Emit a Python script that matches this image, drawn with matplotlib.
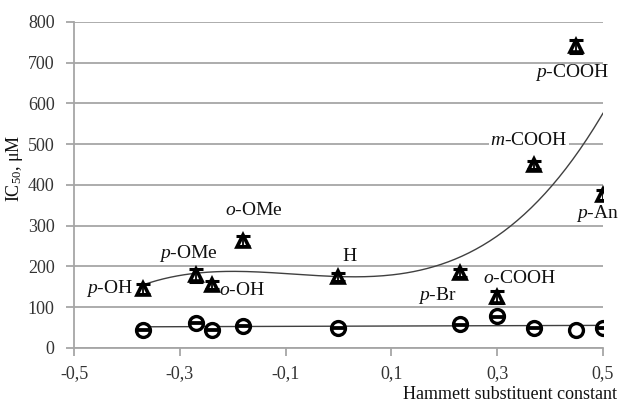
import numpy as np
import matplotlib.pyplot as plt

plt.rcParams['font.family'] = ['Liberation Serif', 'DejaVu Serif']
plt.rcParams['mathtext.fontset'] = 'custom'
plt.rcParams['mathtext.rm'] = 'Liberation Serif'
plt.rcParams['mathtext.it'] = 'Liberation Serif:italic'

# Data (Hammett sigma vs IC50, uM)
tri_labels = ['p-OH', 'p-OMe', 'o-OH', 'o-OMe', 'H', 'p-Br', 'o-COOH', 'm-COOH', 'p-COOH', 'p-An']
tri_x = [-0.37, -0.27, -0.24, -0.18, 0.0, 0.23, 0.30, 0.37, 0.45, 0.50]
tri_y = [145, 178, 155, 262, 175, 185, 125, 448, 740, 375]
tri_err = [12, 15, 10, 12, 10, 10, 15, 10, 15, 12]

circ_x = [-0.37, -0.27, -0.24, -0.18, 0.0, 0.23, 0.30, 0.37, 0.45, 0.50]
circ_y = [45, 62, 45, 55, 50, 58, 78, 50, 45, 50]
circ_err = [1.5, 1.5, 1.5, 1.5, 1.5, 1.5, 1.5, 1.5, np.nan, 1.5]

# label anchor positions (data coords)
lab_pos = {
    'p-OH': (-0.432, 147), 'p-OMe': (-0.284, 233), 'o-OH': (-0.182, 140),
    'o-OMe': (-0.16, 338), 'H': (0.02, 224), 'p-Br': (0.186, 130),
    'o-COOH': (0.343, 170), 'm-COOH': (0.36, 510), 'p-COOH': (0.441, 677),
    'p-An': (0.489, 331),
}

fig = plt.figure(figsize=(6.23, 4.03), dpi=100)
ax = fig.add_axes([0.1188, 0.1365, 0.849, 0.809])

grid_c = '#a6a6a6'
ax.set_xlim(-0.5, 0.5)
ax.set_ylim(0, 800)
ax.set_yticks(range(0, 801, 100))
ax.set_xticks([-0.5, -0.3, -0.1, 0.1, 0.3, 0.5])
ax.set_xticklabels(['-0,5', '-0,3', '-0,1', '0,1', '0,3', '0,5'])
ax.yaxis.grid(True, color=grid_c, lw=1.3)
ax.set_axisbelow(True)
for s in ['top', 'right']:
    ax.spines[s].set_visible(False)
for s in ['left', 'bottom']:
    ax.spines[s].set_color(grid_c)
    ax.spines[s].set_linewidth(1.3)
ax.tick_params(axis='both', colors=grid_c, length=6, width=1.3, labelsize=13,
               labelcolor='#333333')
ax.tick_params(axis='y', pad=8)
ax.tick_params(axis='x', pad=6)

# trend lines
xs = np.linspace(min(tri_x), max(tri_x), 200)
p3 = np.polyfit(tri_x, tri_y, 3)
ax.plot(xs, np.polyval(p3, xs), color='#404040', lw=1.0, zorder=2)
p1 = np.polyfit(circ_x, circ_y, 1)
ax.plot(xs, np.polyval(p1, xs), color='#404040', lw=1.0, zorder=2)

# markers, then error bars on top of them
ax.plot(tri_x, tri_y, '^', ms=9, mfc='white', mec='black', mew=2.6, zorder=3)
ax.errorbar(tri_x, tri_y, yerr=tri_err, fmt='none', ecolor='black',
            elinewidth=1.3, capsize=5, capthick=2.2, zorder=4)
ax.plot(circ_x, circ_y, 'o', ms=10, mfc='white', mec='black', mew=2.4, zorder=3)
ax.errorbar(circ_x, circ_y, yerr=circ_err, fmt='none', ecolor='black',
            elinewidth=1.3, capsize=5, capthick=2, zorder=4)

for lab in tri_labels:
    x, y = lab_pos[lab]
    if '-' in lab:
        pre, rest = lab.split('-', 1)
        s = r'$\mathit{' + pre + r'}$' + '-' + rest
    else:
        s = lab
    bbox = dict(facecolor='white', edgecolor='none', pad=1) if lab == 'm-COOH' else None
    ax.text(x, y, s, ha='center', va='center', fontsize=14, color='#111111',
            bbox=bbox, zorder=5)

ax.set_ylabel(r'IC$_{50}$, μM', fontsize=13, color='#111111')
ax.yaxis.set_label_coords(-0.092, 0.552)
fig.text(0.99, 0.0, 'Hammett substituent constant', ha='right', va='bottom',
         fontsize=13, color='#111111')

plt.savefig('out.png', dpi=100)
plt.close()
